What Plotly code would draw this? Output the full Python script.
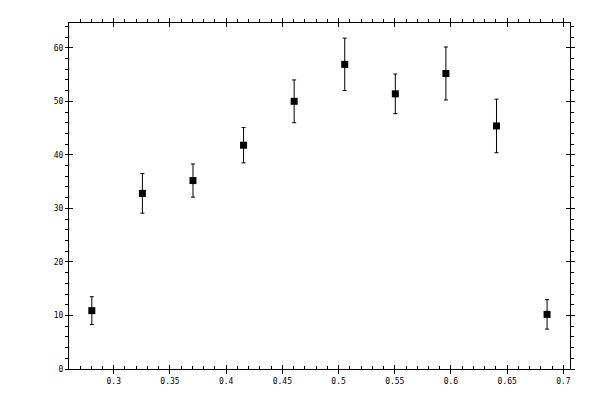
import plotly.graph_objects as go

# ---- data ----
x_vals = [0.2805, 0.3255, 0.3705, 0.4155, 0.4605, 0.5055, 0.5505, 0.5955, 0.6405, 0.6855]
y_vals = [10.9, 32.8, 35.2, 41.8, 50.0, 56.9, 51.4, 55.2, 45.4, 10.2]
y_err = [2.6, 3.7, 3.1, 3.3, 4.0, 4.9, 3.7, 4.95, 5.0, 2.75]

x_tick_vals = [0.3, 0.35, 0.4, 0.45, 0.5, 0.55, 0.6, 0.65, 0.7]
x_tick_text = ["0.3", "0.35", "0.4", "0.45", "0.5", "0.55", "0.6", "0.65", "0.7"]
y_tick_vals = [0, 10, 20, 30, 40, 50, 60]
y_tick_text = ["0", "10", "20", "30", "40", "50", "60"]

X_RANGE = [0.2602, 0.7059]
Y_RANGE = [0, 64.63]
X_MINOR = 0.01
Y_MINOR = 2

FONT = dict(family="DejaVu Sans Mono", size=8, color="black")

fig = go.Figure()

fig.add_trace(go.Scatter(
    x=x_vals, y=y_vals, mode="markers",
    marker=dict(symbol="square", size=7, color="black"),
    error_y=dict(type="data", array=y_err, visible=True, color="black",
                 thickness=1, width=2),
    showlegend=False, hoverinfo="skip", cliponaxis=False,
))

# dummy traces so overlay axes get drawn
for i in (2, 3, 4):
    fig.add_trace(go.Scatter(x=[None], y=[None], xaxis=f"x{i}", yaxis=f"y{i}",
                             showlegend=False, hoverinfo="skip"))

common = dict(showgrid=False, zeroline=False, color="black", tickcolor="black",
              tickwidth=1, tickfont=FONT, linecolor="black", linewidth=1)

def xminor(direction):
    return dict(ticks=direction, ticklen=3, tickmode="linear", tick0=0, dtick=X_MINOR,
                tickcolor="black", tickwidth=1, showgrid=False)

def yminor(direction):
    return dict(ticks=direction, ticklen=3, tickmode="linear", tick0=0, dtick=Y_MINOR,
                tickcolor="black", tickwidth=1, showgrid=False)

# page body has an 8px margin, so the figure is 592x392 offset by 8px
fig.update_layout(
    width=592, height=392,
    margin=dict(l=61, r=30, t=11, b=31, pad=0),
    plot_bgcolor="white", paper_bgcolor="white",
    xaxis=dict(range=X_RANGE, tickmode="array", tickvals=x_tick_vals, ticktext=x_tick_text,
               ticks="outside", ticklen=4, showline=True, side="bottom",
               minor=xminor("inside"), **common),
    xaxis2=dict(range=X_RANGE, overlaying="x", anchor="y2", side="bottom",
                tickmode="array", tickvals=x_tick_vals, ticks="inside", ticklen=4,
                showticklabels=False, showline=False, **common),
    xaxis3=dict(range=X_RANGE, overlaying="x", anchor="y3", side="top",
                tickmode="array", tickvals=x_tick_vals, ticks="outside", ticklen=4,
                showticklabels=False, showline=True, minor=xminor("outside"), **common),
    xaxis4=dict(range=X_RANGE, overlaying="x", anchor="y4", side="top",
                tickmode="array", tickvals=x_tick_vals, ticks="inside", ticklen=4,
                showticklabels=False, showline=False, **common),
    yaxis=dict(range=Y_RANGE, tickmode="array", tickvals=y_tick_vals, ticktext=y_tick_text,
               ticks="outside", ticklen=3, showline=True, side="left",
               minor=yminor("outside"), **common),
    yaxis2=dict(range=Y_RANGE, overlaying="y", anchor="x2", side="left",
                tickmode="array", tickvals=y_tick_vals, ticks="inside", ticklen=4,
                showticklabels=False, showline=False, **common),
    yaxis3=dict(range=Y_RANGE, overlaying="y", anchor="x3", side="right",
                tickmode="array", tickvals=y_tick_vals, ticks="outside", ticklen=4,
                showticklabels=False, showline=True, minor=yminor("outside"), **common),
    yaxis4=dict(range=Y_RANGE, overlaying="y", anchor="x4", side="right",
                tickmode="array", tickvals=y_tick_vals, ticks="inside", ticklen=4,
                showticklabels=False, showline=False, **common),
)

fig.write_html("out.html")
